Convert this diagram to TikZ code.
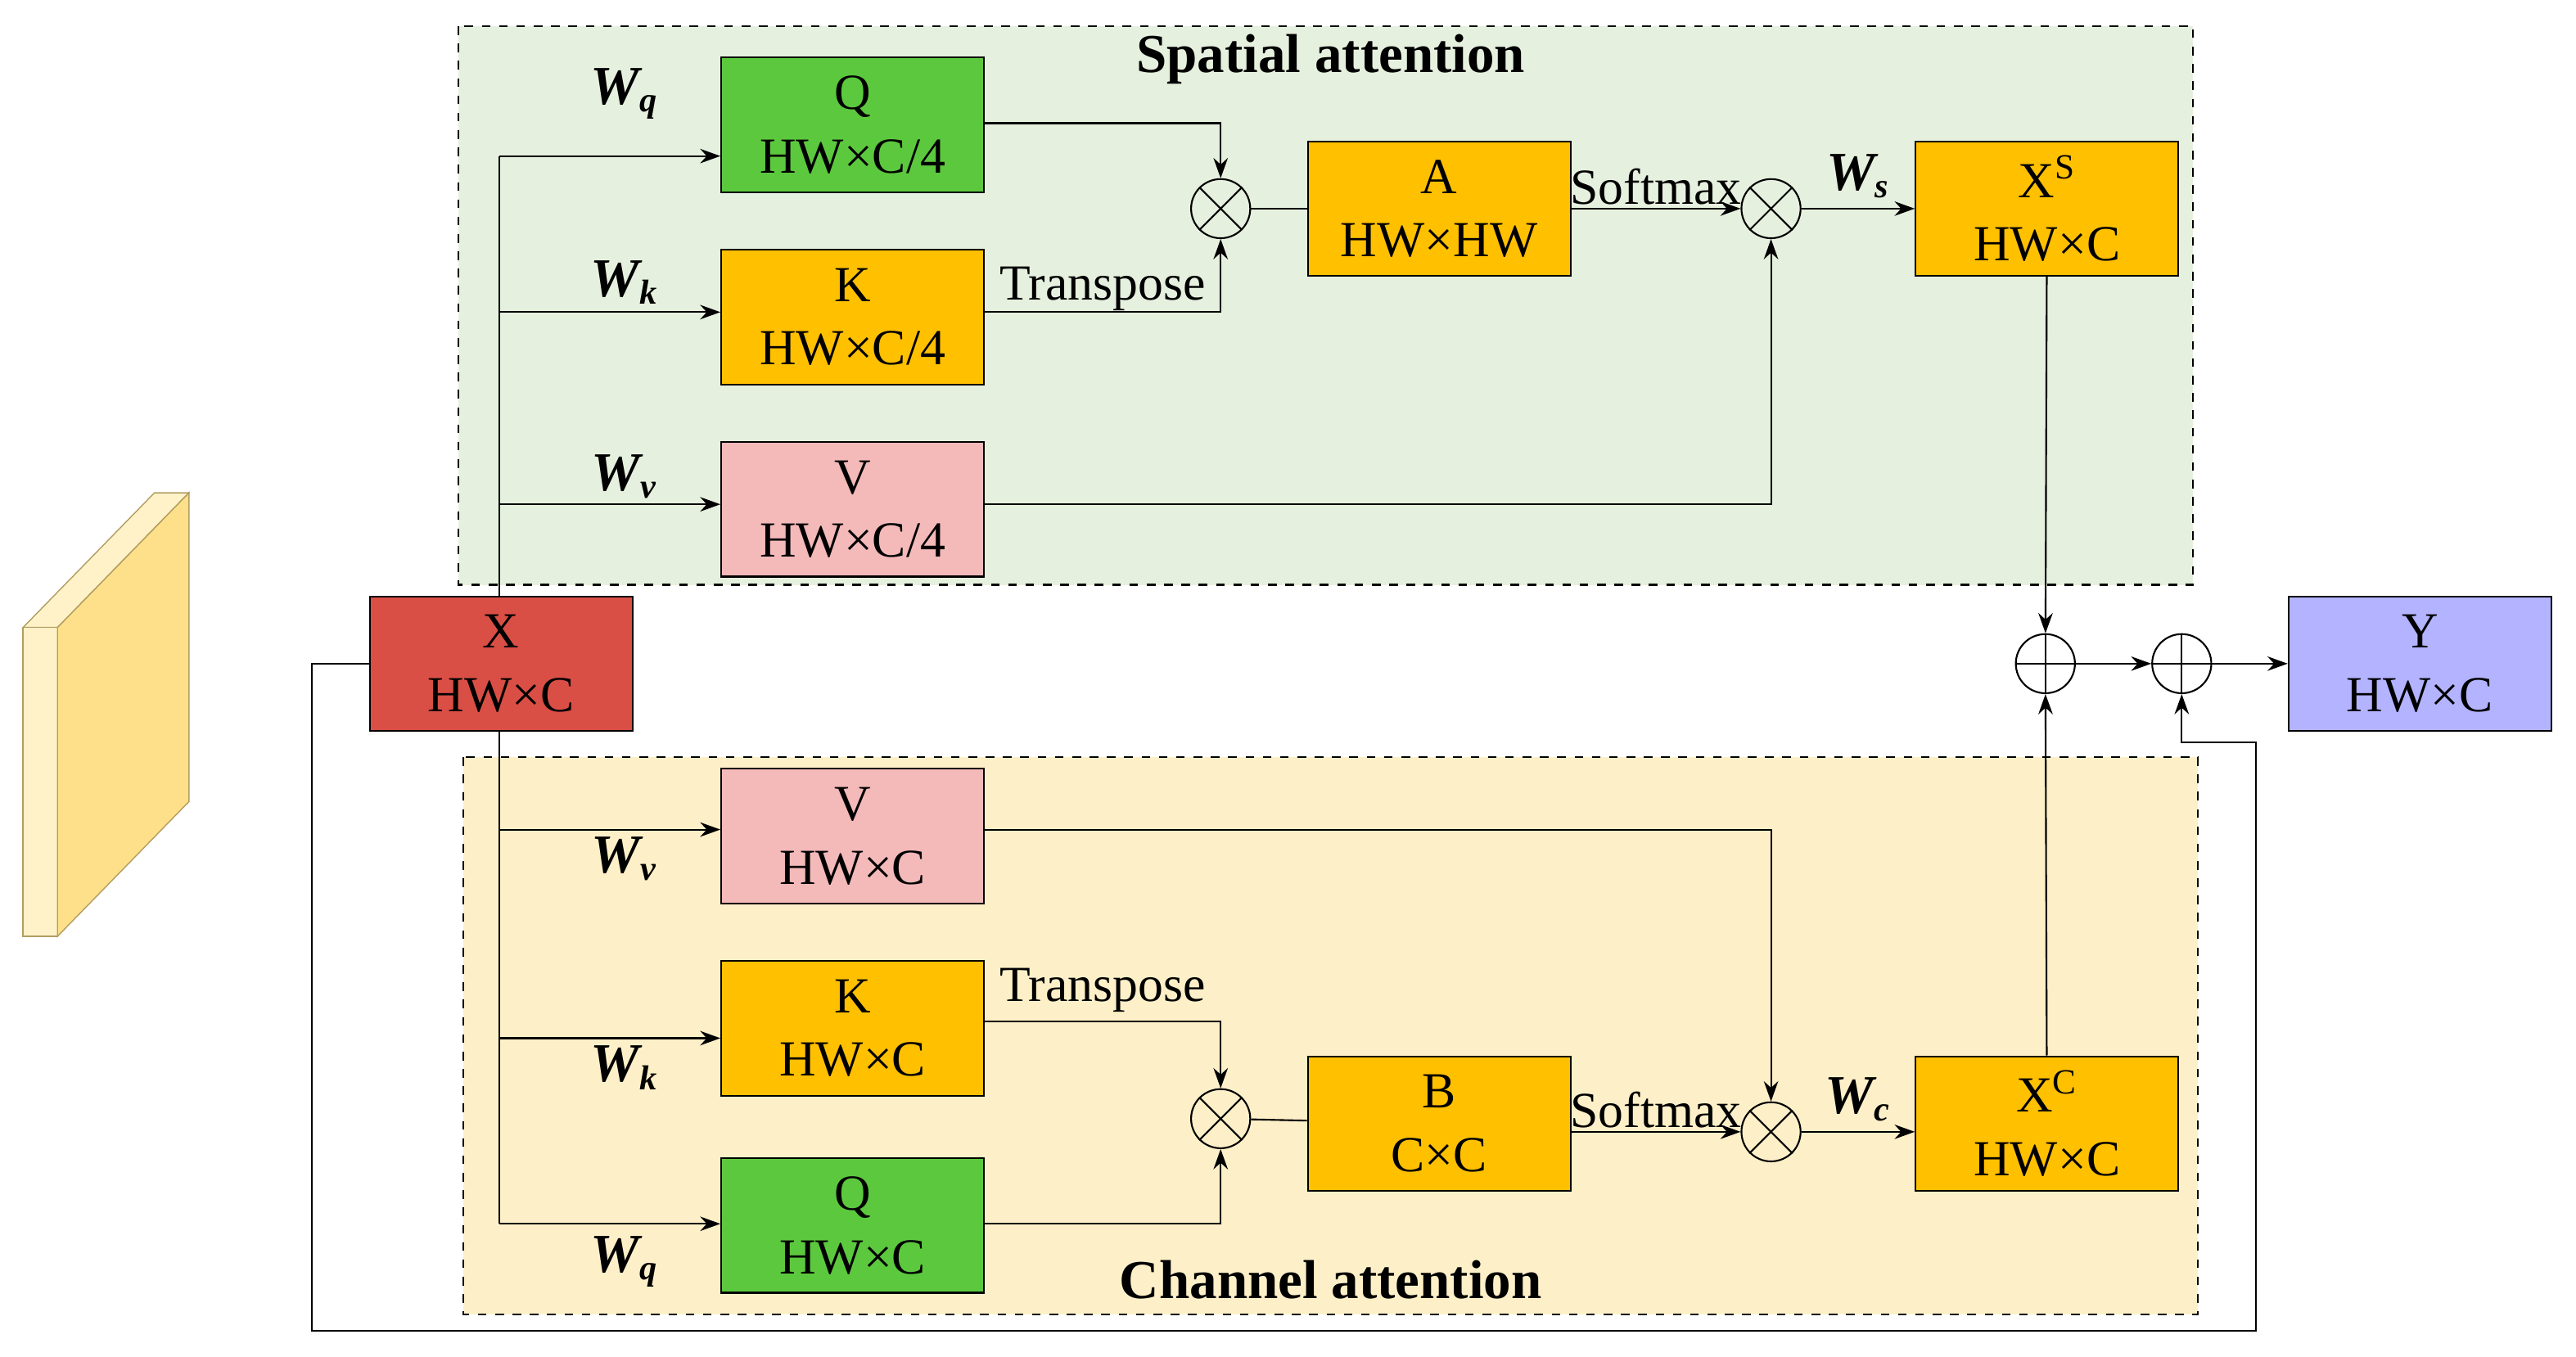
\documentclass[tikz,border=0pt]{standalone}
\usepackage{fontspec}
\setmainfont{Liberation Serif}
\usetikzlibrary{arrows.meta,positioning}
\definecolor{spatbg}{HTML}{E6F0DE}
\definecolor{chanbg}{HTML}{FDF0C8}
\definecolor{xred}{HTML}{D94F45}
\definecolor{qgreen}{HTML}{5CC83E}
\definecolor{korange}{HTML}{FFC000}
\definecolor{vpink}{HTML}{F4B9B9}
\definecolor{ylav}{HTML}{B3B3FF}
\definecolor{slab}{HTML}{FFE08A}
\definecolor{slabl}{HTML}{FFF2C8}
\tikzset{
   blk/.style = {draw, semithick, minimum width=3.2cm, minimum height=1.64cm,
                 align=center, inner sep=1pt, font=\fontsize{17.5}{22}\selectfont},
   op/.style  = {draw, semithick, circle, minimum size=0.72cm, inner sep=0pt},
   lbl/.style = {font=\fontsize{17.5}{22}\selectfont, inner sep=1pt},
   wlbl/.style = {font=\fontsize{19}{22}\selectfont\bfseries\itshape},
   ttl/.style = {font=\fontsize{19}{22}\selectfont\bfseries},
   arr/.style = {-{Stealth[length=7pt,width=5pt]}, semithick},
}
\newcommand{\wsub}[2]{#1\textsubscript{\fontsize{12}{14}\selectfont #2}}
\begin{document}
\begin{tikzpicture}[x=0.02cm,y=-0.02cm,semithick]
\useasboundingbox (0,0) rectangle (1568,826);
% attention regions
\draw[dashed,fill=spatbg] (279,16) rectangle (1335,356);
\draw[dashed,fill=chanbg] (282,461) rectangle (1338,800);
\node[ttl] at (810,36) {Spatial attention};
\node[ttl] at (810,779) {Channel attention};
% feature slab
\draw[fill=slabl,draw=slab!70!black,thin] (14,382) -- (94,300) -- (115,300) -- (35,382) -- cycle;
\draw[fill=slabl,draw=slab!70!black,thin] (14,382) rectangle (35,570);
\draw[fill=slab,draw=slab!70!black,thin] (35,382) -- (115,300) -- (115,488) -- (35,570) -- cycle;
% blocks
\node[blk,fill=xred] (x) at (305,404) {X\\HW×C};
\node[blk,fill=qgreen] (q1) at (519,76) {Q\\HW×C/4};
\node[blk,fill=korange] (k1) at (519,193) {K\\HW×C/4};
\node[blk,fill=vpink] (v1) at (519,310) {V\\HW×C/4};
\node[blk,fill=korange] (a) at (876,127) {A\\HW×HW};
\node[blk,fill=korange] (xs) at (1246,127) {X\textsuperscript{S}\\HW×C};
\node[blk,fill=vpink] (v2) at (519,509) {V\\HW×C};
\node[blk,fill=korange] (k2) at (519,626) {K\\HW×C};
\node[blk,fill=qgreen] (q2) at (519,746) {Q\\HW×C};
\node[blk,fill=korange] (b) at (876,684) {B\\C×C};
\node[blk,fill=korange] (xc) at (1246,684) {X\textsuperscript{C}\\HW×C};
\node[blk,fill=ylav] (y) at (1473,404) {Y\\HW×C};
% operators
\node[op] (m1) at (743,127) {};
\node[op] (m2) at (1078,127) {};
\node[op] (m3) at (743,681) {};
\node[op] (m4) at (1078,689) {};
\node[op] (s1) at (1245,404) {};
\node[op] (s2) at (1328,404) {};
\foreach \m in {m1,m2,m3,m4} \draw (\m.45) -- (\m.225) (\m.135) -- (\m.315);
\foreach \s in {s1,s2} \draw (\s.north) -- (\s.south) (\s.west) -- (\s.east);
% spatial branch
\coordinate (t1) at (304,95);
\coordinate (t2) at (304,190);
\coordinate (t3) at (304,307);
\draw (x.north -| t1) -- (t1);
\draw[arr] (t1) -- (t1 -| q1.west);
\draw[arr] (t2) -- (t2 -| k1.west);
\draw[arr] (t3) -- (t3 -| v1.west);
\node[wlbl] at (380,57) {\wsub{W}{q}};
\node[wlbl] at (380,172) {\wsub{W}{k}};
\node[wlbl] at (380,290) {\wsub{W}{v}};
\draw[arr] (q1.east |- 0,75) -| (m1.north);
\draw[arr] (k1.east |- 0,190) -| (m1.south);
\node[lbl] (tr1) at (671,176) {Transpose};
\draw (m1) -- (a);
\draw[arr] (a) -- (m2) node[lbl,midway,above] {Softmax};
\draw[arr] (v1.east |- 0,307) -| (m2.south);
\draw[arr] (m2) -- (xs) node[wlbl,midway,above] {\wsub{W}{s}};
\draw[arr] (xs) -- (s1);
% channel branch
\coordinate (u1) at (304,505);
\coordinate (u2) at (304,632);
\coordinate (u3) at (304,745);
\draw (x.south -| u3) -- (u3);
\draw[arr] (u1) -- (u1 -| v2.west);
\draw[arr] (u2) -- (u2 -| k2.west);
\draw[arr] (u3) -- (u3 -| q2.west);
\node[wlbl] at (380,523) {\wsub{W}{v}};
\node[wlbl] at (380,650) {\wsub{W}{k}};
\node[wlbl] at (380,768) {\wsub{W}{q}};
\draw[arr] (v2.east |- 0,505) -| (m4.north);
\draw[arr] (k2.east |- 0,622) -| (m3.north);
\node[lbl] (tr2) at (671,603) {Transpose};
\draw[arr] (q2.east |- 0,745) -| (m3.south);
\draw (m3) -- (b);
\draw[arr] (b.east |- m4) -- (m4) node[lbl,midway,above] {Softmax};
\draw[arr] (m4) -- (xc.west |- m4) node[wlbl,midway,above] {\wsub{W}{c}};
\draw[arr] (xc) -- (s1);
% fusion
\draw[arr] (s1) -- (s2);
\draw[arr] (s2) -- (y);
\coordinate (r1) at (190,404);
\coordinate (r2) at (190,810);
\coordinate (r3) at (1373,810);
\coordinate (r4) at (1373,452);
\draw[arr] (x.west) -- (r1) -- (r2) -- (r3) -- (r4) -| (s2.south);
\end{tikzpicture}
\end{document}
